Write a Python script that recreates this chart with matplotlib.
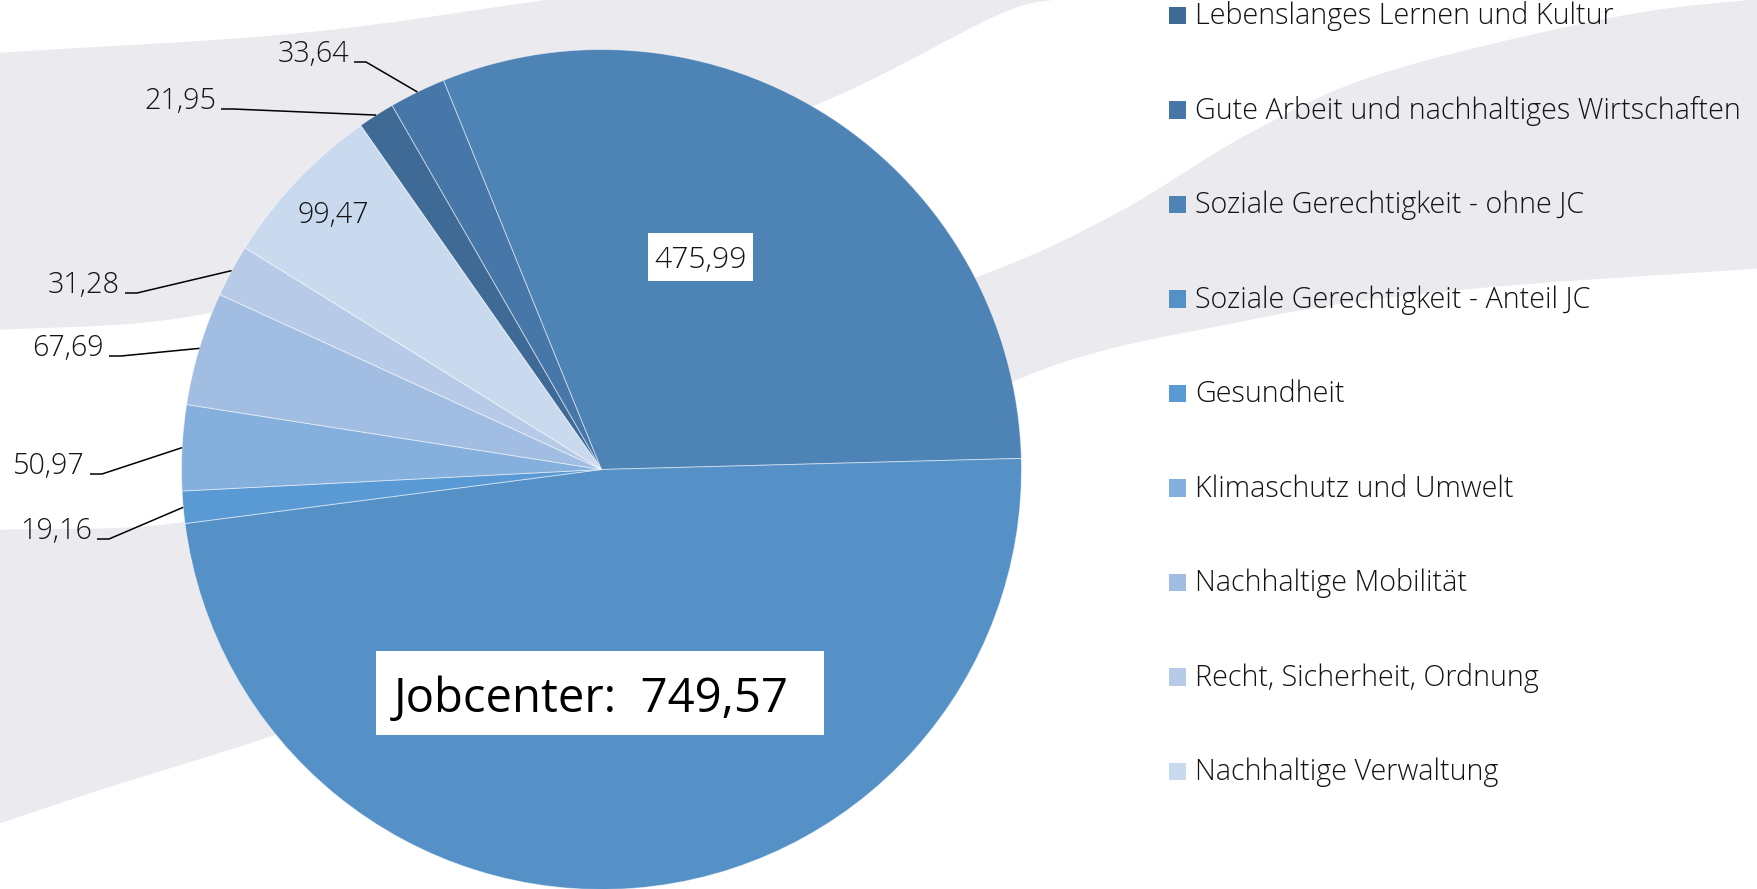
import numpy as np
import matplotlib
matplotlib.use("Agg")
import matplotlib.pyplot as plt
from matplotlib.patches import Polygon, Rectangle
from matplotlib import font_manager

# ---------------- data ----------------
categories = [
    "Lebenslanges Lernen und Kultur",
    "Gute Arbeit und nachhaltiges Wirtschaften",
    "Soziale Gerechtigkeit - ohne JC",
    "Soziale Gerechtigkeit - Anteil JC",
    "Gesundheit",
    "Klimaschutz und Umwelt",
    "Nachhaltige Mobilität",
    "Recht, Sicherheit, Ordnung",
    "Nachhaltige Verwaltung",
]
values = [21.95, 33.64, 475.99, 749.57, 19.16, 50.97, 67.69, 31.28, 99.47]
colors = ["#3e6a95", "#4677a8", "#4e83b6", "#5591c6", "#5a9ad4",
          "#85afdc", "#a1bde2", "#b7cbe8", "#cadaee"]
jobcenter_prefix = "Jobcenter:  "

plt.rcParams["font.family"] = ["Open Sans", "DejaVu Sans"]

# use a lighter weight if the installed Open Sans provides one
light_weight = "normal"
for f in font_manager.fontManager.ttflist:
    if f.name == "Open Sans" and f.weight in (300, "light"):
        light_weight = "light"
        break
small_size = 20.7 if light_weight == "light" else 20
legend_size = 20.7 if light_weight == "light" else 20
box_size = 21.7 if light_weight == "light" else 21

W, H = 1758, 889
fig = plt.figure(figsize=(W / 100, H / 100), dpi=100)
ax = fig.add_axes([0, 0, 1, 1])


def Y(y):
    return H - y


def fmt(v):
    return f"{v:.2f}".replace(".", ",")


def catmull(pts, n=40):
    pts = np.asarray(pts, float)
    P = np.vstack([2 * pts[0] - pts[1], pts, 2 * pts[-1] - pts[-2]])
    out = []
    t = np.linspace(0, 1, n, endpoint=False)[:, None]
    for i in range(1, len(P) - 2):
        p0, p1, p2, p3 = P[i - 1], P[i], P[i + 1], P[i + 2]
        seg = 0.5 * ((2 * p1) + (-p0 + p2) * t + (2 * p0 - 5 * p1 + 4 * p2 - p3) * t ** 2
                     + (-p0 + 3 * p1 - 3 * p2 + p3) * t ** 3)
        out.append(seg)
    out.append(pts[-1][None, :])
    return np.vstack(out)


def to_data(arr):
    arr = np.asarray(arr, float).copy()
    arr[:, 1] = H - arr[:, 1]
    return arr


# ---------------- decorative background swooshes ----------------
band_gray = "#ebebef"
upperA = catmull([(-5, 53), (300, 33), (560, -2)])
lowerA = catmull([(1062, -2), (1000, 14), (850, 90), (700, 150), (450, 240),
                  (260, 300), (150, 322), (-5, 330)])
polyA = np.vstack([upperA, [(1062, -2)], lowerA])
ax.add_patch(Polygon(to_data(polyA), closed=True, fc=band_gray, ec="none", zorder=0))

upperB = catmull([(-5, 530), (183, 522), (400, 470), (700, 370), (977, 277),
                  (1117, 213), (1250, 133), (1383, 73), (1615, 17), (1765, -2)])
lowerB = catmull([(1765, 268), (1460, 290), (1250, 320), (1017, 380), (800, 520),
                  (500, 660), (260, 740), (100, 790), (-5, 825)])
polyB = np.vstack([upperB, lowerB])
ax.add_patch(Polygon(to_data(polyB), closed=True, fc=band_gray, ec="none", zorder=0))

# ---------------- pie ----------------
cx, cy, R = 601.5, 469.5, 420
wedges, _ = ax.pie(values, colors=colors, startangle=125, counterclock=False,
                   radius=R, center=(cx, Y(cy)), frame=True,
                   wedgeprops=dict(edgecolor=(1, 1, 1, 0.5), linewidth=0.7))
for w in wedges:
    w.set_zorder(2)


def mid_point(i, r):
    w = wedges[i]
    a = np.deg2rad((w.theta1 + w.theta2) / 2)
    return cx + r * np.cos(a), Y(cy) + r * np.sin(a)


# outside labels: (text right x, baseline y) in pixel layout
outside = {0: (216, 109), 1: (349, 62), 4: (92, 539), 5: (85, 474),
           6: (104, 356), 7: (120, 293)}
for i, (xr, yb) in outside.items():
    ax.text(xr, Y(yb), fmt(values[i]), ha="right", va="baseline",
            fontsize=small_size, color="#141414", zorder=5, fontweight=light_weight)
    px, py = mid_point(i, R)
    ax.plot([xr + 5, xr + 17, px], [Y(yb), Y(yb), py], color="black",
            lw=1.1, zorder=4, solid_capstyle="butt")

# inside label (Verwaltung)
px, py = mid_point(8, 0.88 * R)
ax.text(px, py, fmt(values[8]), ha="center", va="center",
        fontsize=small_size, color="#141414", zorder=5, fontweight=light_weight)

# boxed label 475,99
ax.add_patch(Rectangle((648, Y(281)), 105, 48, fc="white", ec="none", zorder=4))
ax.text(700.5, Y(268), fmt(values[2]), ha="center", va="baseline",
        fontsize=box_size, color="#141414", zorder=5, fontweight=light_weight)

# boxed Jobcenter label
ax.add_patch(Rectangle((376, Y(735)), 448, 84, fc="white", ec="none", zorder=4))
ax.text(394, Y(712), jobcenter_prefix + fmt(values[3]), ha="left", va="baseline",
        fontsize=34, color="black", zorder=5)

# ---------------- legend ----------------
for i, cat in enumerate(categories):
    yc = 15.7 + i * 94.46
    base = yc + 8.75
    ax.add_patch(Rectangle((1169, Y(base)), 17.5, 17.5, fc=colors[i], ec="none", zorder=5))
    ax.text(1195, Y(base), cat, ha="left", va="baseline", fontsize=legend_size,
            color="#141414", zorder=5, fontweight=light_weight)

ax.set_xlim(0, W)
ax.set_ylim(0, H)
ax.set_aspect("equal", adjustable="box")
ax.axis("off")

fig.savefig("out.png", dpi=100, facecolor="white")
